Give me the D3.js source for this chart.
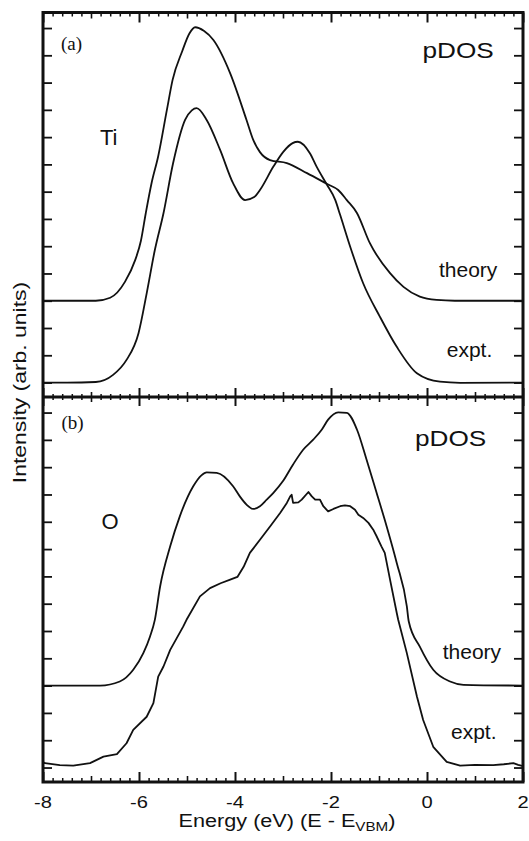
<!DOCTYPE html>
<html>
<head>
<meta charset="utf-8">
<script src="https://cdn.jsdelivr.net/npm/d3@7"></script>
<style>
  body { margin: 0; background: #fff; }
  text { font-family: "Liberation Sans", Arial, sans-serif; fill: #111; }
</style>
</head>
<body>
<script>
// x axis (energy, eV)
var xTickValues = [-8, -6, -4, -2, 0, 2];
var xTickLabels = ["-8", "-6", "-4", "-2", "0", "2"];
var xMidTicks = [-7, -5, -3, -1, 1];
// y ticks, arbitrary units (same in both panels)
var yTickValues = d3.range(0, 14);

// panel (a) Ti pDOS : [energy, intensity]
var tiTheory = [[-8, 3.0], [-6.9, 3.0], [-6.6, 3.11], [-6.29, 3.7], [-6.08, 4.49], [-5.96, 5.2],
  [-5.86, 6.2], [-5.74, 7.3], [-5.6, 8.3], [-5.42, 9.99], [-5.3, 11.1], [-5.1, 12.15],
  [-4.95, 12.8], [-4.83, 13.03], [-4.65, 12.9], [-4.45, 12.56], [-4.1, 11.34], [-3.76, 9.63],
  [-3.62, 8.9], [-3.48, 8.45], [-3.27, 8.16], [-2.92, 8.05], [-2.5, 7.68], [-2.08, 7.28],
  [-1.85, 7.06], [-1.67, 6.69], [-1.46, 6.22], [-1.19, 5.11], [-0.77, 4.01], [-0.49, 3.51],
  [-0.15, 3.15], [0.2, 3.03], [0.58, 3.0], [2, 3.0]];
var tiExpt = [[-8, 0.0], [-7.5, 0.0], [-6.9, 0.02], [-6.54, 0.28], [-6.26, 0.83], [-6.01, 1.81],
  [-5.84, 3.27], [-5.67, 4.86], [-5.49, 6.21], [-5.29, 8.04], [-5.04, 9.63], [-4.9, 9.98],
  [-4.8, 10.06], [-4.59, 9.63], [-4.31, 8.53], [-4.04, 7.31], [-3.79, 6.69], [-3.6, 6.8],
  [-3.48, 7.06], [-3.2, 7.92], [-2.99, 8.47], [-2.8, 8.78], [-2.69, 8.83], [-2.44, 8.41],
  [-2.3, 7.92], [-2.09, 7.27], [-1.91, 6.69], [-1.81, 6.15], [-1.6, 4.98], [-1.33, 3.64],
  [-0.98, 2.41], [-0.63, 1.31], [-0.21, 0.34], [0.27, 0.03], [0.69, -0.01], [2, 0.0]];

// panel (b) O pDOS
var oTheory = [[-8, 3.0], [-6.81, 3.0], [-6.4, 3.15], [-6.12, 3.58], [-5.91, 4.19], [-5.77, 4.8],
  [-5.67, 5.41], [-5.56, 6.63], [-5.35, 8.1], [-5.15, 9.2], [-4.87, 10.3], [-4.7, 10.7],
  [-4.59, 10.81], [-4.38, 10.79], [-4.04, 10.3], [-3.9, 9.93], [-3.76, 9.63], [-3.62, 9.47],
  [-3.48, 9.57], [-3.34, 9.81], [-3.2, 10.06], [-3.0, 10.49], [-2.79, 11.1], [-2.58, 11.64],
  [-2.37, 12.01], [-2.19, 12.38], [-2.06, 12.74], [-1.85, 13.01], [-1.67, 12.99], [-1.46, 12.38],
  [-1.26, 11.28], [-1.05, 10.06], [-0.84, 8.83], [-0.63, 7.49], [-0.42, 5.9], [-0.38, 5.35],
  [-0.15, 4.43], [0.13, 3.58], [0.48, 3.15], [0.76, 3.03], [2, 3.0]];
var oExpt = [[-8, 0.2], [-7.96, 0.16], [-7.65, 0.09], [-7.37, 0.07], [-7.02, 0.16], [-6.74, 0.4],
  [-6.46, 0.49], [-6.26, 0.89], [-6.12, 1.38], [-5.84, 1.86], [-5.7, 2.36], [-5.6, 3.33],
  [-5.49, 3.7], [-5.35, 4.31], [-5.08, 5.16], [-5.01, 5.41], [-4.73, 6.27], [-4.52, 6.57],
  [-4.3, 6.75], [-4.1, 6.88], [-3.95, 6.98], [-3.82, 7.35], [-3.69, 7.86], [-3.48, 8.34],
  [-3.27, 8.83], [-3.06, 9.32], [-2.92, 9.69], [-2.85, 9.93], [-2.82, 9.99], [-2.79, 9.69],
  [-2.68, 9.71], [-2.61, 9.81], [-2.47, 10.09], [-2.4, 9.93], [-2.33, 9.81], [-2.23, 9.81],
  [-2.16, 9.57], [-2.06, 9.38], [-1.95, 9.47], [-1.81, 9.57], [-1.71, 9.6], [-1.6, 9.57],
  [-1.5, 9.44], [-1.43, 9.26], [-1.33, 9.14], [-1.22, 8.96], [-1.12, 8.71], [-1.05, 8.47],
  [-0.95, 8.1], [-0.88, 7.86], [-0.77, 6.88], [-0.63, 5.66], [-0.6, 5.41], [-0.42, 4.19],
  [-0.21, 2.6], [-0.08, 1.74], [0.13, 0.76], [0.41, 0.21], [0.69, 0.07], [1.0, 0.1],
  [1.38, 0.09], [1.6, 0.12], [1.8, 0.16], [1.9, 0.1], [2.0, 0.05]];

var width = 529, height = 841;
var xLeft = 43, xRight = 523, yTop = 12.5, yMid = 397, yBottom = 782;

var svg = d3.select("body").append("svg")
  .attr("width", width)
  .attr("height", height);

var x = d3.scaleLinear().domain([-8, 2]).range([xLeft, xRight]);
var yA = d3.scaleLinear().domain([-0.53, 13.57]).range([yMid, yTop]);
var yB = d3.scaleLinear().domain([-0.53, 13.57]).range([yBottom, yMid]);

// minor ticks every 0.2 eV
var xMinor = d3.range(0, 51).filter(function(i) { return i % 5 !== 0; })
  .map(function(i) { return -8 + i * 0.2; });

function xTicks(gen, y, vals, size, sw) {
  svg.append("g")
    .attr("transform", "translate(0," + y + ")")
    .call(gen(x).tickValues(vals).tickSize(size).tickFormat(""))
    .call(function(g) {
      g.select(".domain").remove();
      g.selectAll("line").attr("stroke", "#111").attr("stroke-width", sw);
    });
}

// top edge, ticks down
xTicks(d3.axisBottom, yTop, xTickValues, 10, 2);
xTicks(d3.axisBottom, yTop, xMidTicks, 6, 1.6);
xTicks(d3.axisBottom, yTop, xMinor, 4, 1.5);
// divider, ticks on both sides
[d3.axisBottom, d3.axisTop].forEach(function(gen) {
  xTicks(gen, yMid, xTickValues, 9, 2);
  xTicks(gen, yMid, xMidTicks, 5, 1.6);
  xTicks(gen, yMid, xMinor, 3, 1.5);
});
// bottom edge, ticks up
xTicks(d3.axisTop, yBottom, xTickValues, 10, 2);
xTicks(d3.axisTop, yBottom, xMidTicks, 6, 1.6);
xTicks(d3.axisTop, yBottom, xMinor, 4, 1.5);

// y ticks on both sides of each panel
[yA, yB].forEach(function(y) {
  svg.append("g")
    .attr("transform", "translate(" + xLeft + ",0)")
    .call(d3.axisRight(y).tickValues(yTickValues).tickSize(9).tickFormat(""))
    .call(function(g) {
      g.select(".domain").remove();
      g.selectAll("line").attr("stroke", "#111").attr("stroke-width", 1.8);
    });
  svg.append("g")
    .attr("transform", "translate(" + xRight + ",0)")
    .call(d3.axisLeft(y).tickValues(yTickValues).tickSize(9).tickFormat(""))
    .call(function(g) {
      g.select(".domain").remove();
      g.selectAll("line").attr("stroke", "#111").attr("stroke-width", 1.8);
    });
});

// frame
svg.append("rect")
  .attr("x", xLeft).attr("y", yTop)
  .attr("width", xRight - xLeft).attr("height", yBottom - yTop)
  .attr("fill", "none").attr("stroke", "#111").attr("stroke-width", 3);
svg.append("line")
  .attr("x1", xLeft).attr("x2", xRight).attr("y1", yMid).attr("y2", yMid)
  .attr("stroke", "#111").attr("stroke-width", 3);

// curves
function drawLine(data, y, curve) {
  var line = d3.line()
    .x(function(d) { return x(d[0]); })
    .y(function(d) { return y(d[1]); })
    .curve(curve);
  svg.append("path")
    .datum(data)
    .attr("d", line)
    .attr("fill", "none")
    .attr("stroke", "#111")
    .attr("stroke-width", 1.8)
    .attr("stroke-linejoin", "round");
}
drawLine(tiTheory, yA, d3.curveMonotoneX);
drawLine(tiExpt, yA, d3.curveMonotoneX);
drawLine(oTheory, yB, d3.curveMonotoneX);
drawLine(oExpt, yB, d3.curveLinear);

// text, sx = horizontal stretch
function label(txt, px, py, size, sx, family) {
  var t = svg.append("text")
    .attr("transform", "translate(" + px + "," + py + ") scale(" + sx + ",1)")
    .attr("font-size", size)
    .text(txt);
  if (family) t.style("font-family", family);
  return t;
}

label("(a)", 61, 50, 19, 1, '"Liberation Serif", "Times New Roman", serif');
label("(b)", 61.5, 428.5, 19, 1, '"Liberation Serif", "Times New Roman", serif');
label("Ti", 100, 145, 22, 1);
label("O", 101.5, 528.5, 22, 1);
label("pDOS", 422.5, 58.3, 22, 1.19);
label("pDOS", 415, 445.5, 22, 1.19);
label("theory", 439, 276.7, 21, 1);
label("expt.", 446.7, 356.7, 21, 1);
label("theory", 442.7, 659.3, 21, 1);
label("expt.", 451, 739.3, 21, 1);

// x tick labels
svg.append("g").selectAll("text")
  .data(xTickValues)
  .enter().append("text")
  .attr("transform", function(d) { return "translate(" + x(d) + ",808.3) scale(1.22,1)"; })
  .attr("text-anchor", "middle")
  .attr("font-size", 16.5)
  .text(function(d, i) { return xTickLabels[i]; });

// axis titles
var xt = svg.append("text")
  .attr("transform", "translate(" + ((xLeft + xRight) / 2 + 4) + ",827.3) scale(1.17,1)")
  .attr("text-anchor", "middle")
  .attr("font-size", 18.5);
xt.append("tspan").text("Energy (eV) (E - E");
xt.append("tspan").attr("font-size", 13).attr("dy", 4).text("VBM");
xt.append("tspan").attr("dy", -4).text(")");

svg.append("text")
  .attr("transform", "translate(26,382.5) rotate(-90) scale(1.24,1)")
  .attr("text-anchor", "middle")
  .attr("font-size", 18.5)
  .text("Intensity (arb. units)");
</script>
</body>
</html>
